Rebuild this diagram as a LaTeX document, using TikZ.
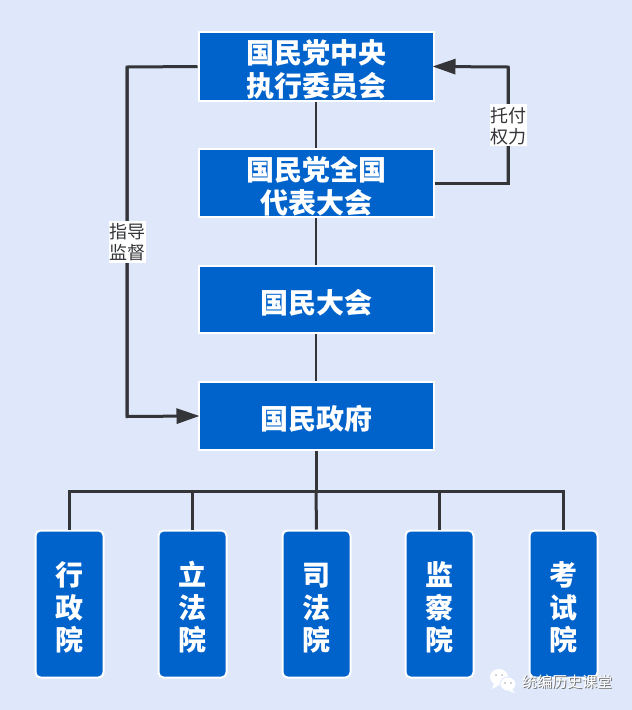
\documentclass[tikz,border=0pt]{standalone}
\usepackage{fontspec}
\setmainfont{Noto Sans CJK SC}
\usetikzlibrary{arrows.meta}
\definecolor{pagebg}{HTML}{DEE8FA}
\definecolor{boxblue}{HTML}{0063CB}
\definecolor{linkdark}{HTML}{333538}
% an empty opening line pulled up by #1, which lowers the block inside its box
\newcommand\openline[1]{\mbox{}\\[#1]}
\tikzset{
  wide/.style={draw=white,line width=2pt,fill=boxblue,text=white,minimum width=235pt,
    inner sep=0pt,align=center,font=\fontsize{28}{33}\selectfont\bfseries},
  tall/.style={draw=white,line width=2pt,fill=boxblue,text=white,rounded corners=5pt,minimum width=68pt,minimum height=147pt,
    inner sep=0pt,align=center,font=\fontsize{28}{32.5}\selectfont\bfseries},
  link/.style={draw=linkdark,line width=3pt},
  thinlink/.style={draw=linkdark,line width=2.4pt},
  flow/.style={link,-{Triangle[length=23pt,width=15pt]},shorten >=-2pt},
  tag/.style={fill=white,text=linkdark,inner sep=0pt,minimum width=37pt,minimum height=42pt,align=center,
    font=\fontsize{18}{21.5}\selectfont},
}
\begin{document}
\begin{tikzpicture}[x=1pt,y=-1pt]
\useasboundingbox (0,0) rectangle (632,710);
\fill[pagebg] (0,0) rectangle (632,710);

% trunk and branch points
\coordinate (busmid) at (316,491);
\coordinate (busa) at (69.5,491);
\coordinate (busb) at (192.5,491);
\coordinate (busd) at (439.5,491);
\coordinate (buse) at (563.5,491);
\coordinate (leftrail) at (127,67);
\coordinate (leftfoot) at (127,416.5);
\coordinate (rightrail) at (508,183);
\coordinate (righttop) at (508,67);

% upper column of wide boxes
\node[wide,minimum height=69pt] (cec) at (316,66.5) {\openline{-3pt}国民党中央\\执行委员会};
\node[wide,minimum height=68pt] (congress) at (316,183) {\openline{-3pt}国民党全国\\代表大会};
\node[wide,minimum height=67pt] (assembly) at (316,299.5) {\openline{-3pt}国民大会};
\node[wide,minimum height=68pt] (gov) at (316,416) {\openline{-3pt}国民政府};

% lower row of five branches
\node[tall] (exec) at (69.5,604) {\openline{-1.5pt}行\\政\\院};
\node[tall] (legis) at (192.5,604) {\openline{-1.5pt}立\\法\\院};
\node[tall] (jud) at (316.5,604) {\openline{-1.5pt}司\\法\\院};
\node[tall] (ctrl) at (439.5,604) {\openline{-1.5pt}监\\察\\院};
\node[tall] (exam) at (563.5,604) {\openline{-1.5pt}考\\试\\院};

% connectors
\draw[thinlink] (cec.south) -- (congress.north);
\draw[thinlink] (congress.south) -- (assembly.north);
\draw[thinlink] (assembly.south) -- (gov.north);
\draw[link] (gov.south) -- (busmid);
\draw[link,line cap=rect] (busa) -- (buse);
\draw[link] (busa) -- (exec.north);
\draw[link] (busb) -- (legis.north);
\draw[link] (busmid) -- (jud.north);
\draw[link] (busd) -- (ctrl.north);
\draw[link] (buse) -- (exam.north);
\draw[link,line join=miter] (cec.west) -- (leftrail) -- (leftfoot);
\draw[flow,line join=miter] (leftrail) -- (leftfoot) -- (gov.west);
\draw[link,line join=miter] (congress.east |- rightrail) -- (rightrail) -- (righttop);
\draw[flow,line join=miter] (rightrail) -- (righttop) -- (cec.east);

\node[tag] (guide) at (127.5,241.5) {\openline{-5.5pt}指导\\监督};
\node[tag] (trust) at (508.5,125) {\openline{-3.5pt}托付\\权力};

% account mark in the lower corner
\fill[white] (499,677) ellipse (9pt and 8pt);
\fill[white] (494,683) -- (492,689) -- (499,685) -- cycle;
\fill[black!35] (496,675) circle (0.8pt) (502,675) circle (0.8pt);
\fill[white,draw=pagebg,line width=0.8pt] (508,684) ellipse (8pt and 7pt);
\fill[white] (512,689) -- (515,693) -- (509,691) -- cycle;
\fill[black!35] (505,683) circle (0.8pt) (511,683) circle (0.8pt);
\node[text=black!55,inner sep=0pt,font=\fontsize{15}{15}\selectfont] at (568,682.5) {统编历史课堂};
\node[text=white,inner sep=0pt,font=\fontsize{15}{15}\selectfont] (mark) at (567,681.5) {统编历史课堂};
\end{tikzpicture}
\end{document}
